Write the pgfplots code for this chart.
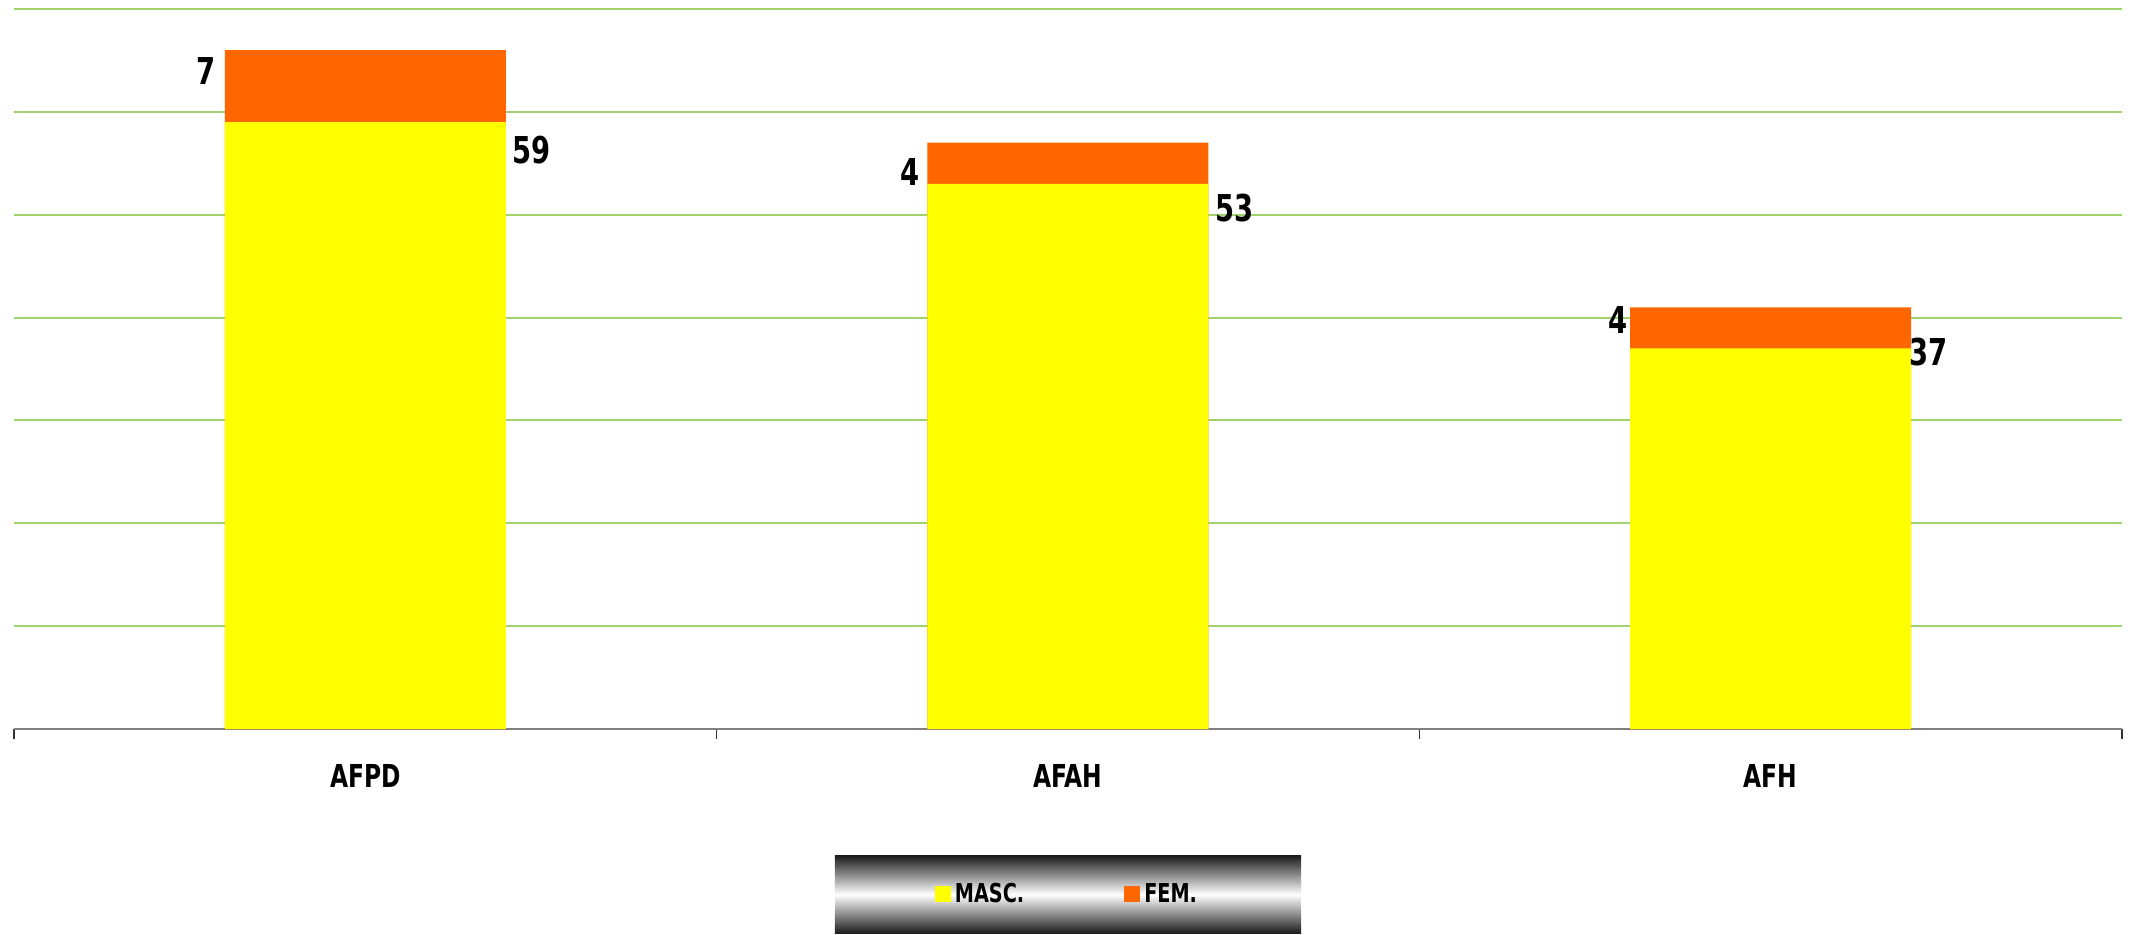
\documentclass[border=0pt]{standalone}
\usepackage{fontspec}
\setmainfont{DejaVu Sans}[FakeStretch=0.74]
\usepackage{pgfplots}
\pgfplotsset{compat=1.18}
\definecolor{masc}{RGB}{255,255,0}
\definecolor{fem}{RGB}{255,102,0}
\definecolor{gridgreen}{RGB}{160,210,110}
\definecolor{axisgray}{RGB}{128,128,128}
\begin{document}
\begin{tikzpicture}
\begin{axis}[
    scale only axis,
    width=1054pt, height=360pt,
    xmin=-0.5, xmax=2.5,
    ymin=0, ymax=70,
    axis x line*=bottom,
    axis y line*=left,
    y axis line style={draw=none},
    x axis line style={axisgray, line width=1pt},
    xtick={0,1,2},
    xticklabels={AFPD,AFAH,AFH},
    minor xtick={-0.5,0.5,1.5,2.5},
    major tick length=0pt,
    minor tick length=5pt,
    tick align=outside,
    minor x tick style={black!80, line width=0.7pt},
    ytick={0,10,...,70},
    yticklabels={},
    ymajorgrids,
    major grid style={gridgreen, line width=1pt},
    xticklabel style={font=\bfseries\fontsize{15.8}{16}\selectfont, yshift=-14pt},
    legend columns=2,
    legend style={
        at={(0.5,-0.2847)}, anchor=south,
        draw=none,
        top color=black!90, bottom color=black!90, middle color=white,
        inner xsep=50pt, inner ysep=12pt,
        font=\bfseries\fontsize{13}{13}\selectfont,
        /tikz/every even column/.append style={column sep=48pt},
    },
    legend image code/.code={\fill[#1] (0pt,-4pt) rectangle (8pt,4pt);},
]
% orange drawn full height, yellow over it
\addplot[ybar, bar width=0.4, fill=fem, draw=none, forget plot]
    coordinates {(0,66) (1,57) (2,41)};
\addplot[ybar, bar width=0.4, fill=masc, draw=none]
    coordinates {(0,59) (1,53) (2,37)};
\addlegendentry{MASC.}
\addlegendimage{fill=fem, draw=none}
\addlegendentry{FEM.}
% data labels
\addplot[draw=none, mark=none, forget plot,
    point meta=explicit symbolic,
    nodes near coords,
    every node near coord/.style={anchor=center, inner sep=0pt,
        font=\bfseries\fontsize{18.5}{19}\selectfont}]
    coordinates {(-0.226,63.97)[7] (0.2365,56.29)[59]
                 (0.775,54.15)[4] (1.237,50.65)[53]
                 (1.7827,39.76)[4] (2.2246,36.65)[37]};
\end{axis}
\pgfresetboundingbox
\path (-7pt,-102.5pt) rectangle (1061pt,364.5pt);
\end{tikzpicture}
\end{document}
